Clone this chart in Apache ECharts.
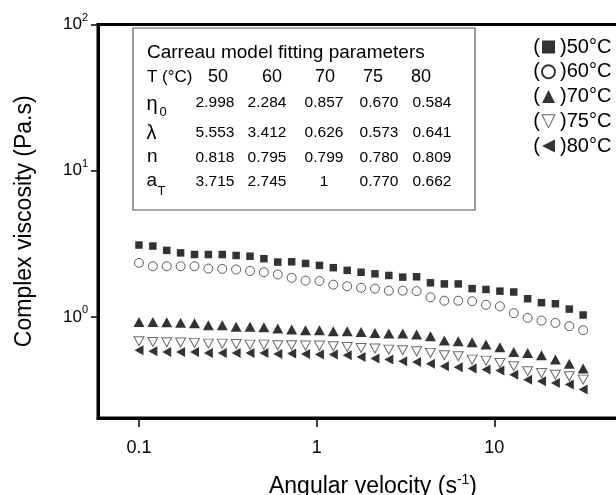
<!DOCTYPE html>
<html>
<head>
<meta charset="utf-8">
<script src="https://cdn.jsdelivr.net/npm/echarts@6/dist/echarts.min.js"></script>
<style>
html,body{margin:0;padding:0;background:#fff;}
#chart{width:616px;height:495px;}
</style>
</head>
<body>
<div id="chart"></div>
<script>
// ---- data ----
var omega = [0.1, 0.1197, 0.1433, 0.1715, 0.2054, 0.2458, 0.2943, 0.3523, 0.4217, 0.5048, 0.6043, 0.7234, 0.866, 1.037, 1.241, 1.486, 1.778, 2.129, 2.548, 3.051, 3.652, 4.371, 5.233, 6.264, 7.499, 8.977, 10.75, 12.86, 15.4, 18.43, 22.07, 26.42, 31.62];
var eta50 = [3.10, 3.05, 2.85, 2.74, 2.67, 2.67, 2.67, 2.63, 2.60, 2.50, 2.37, 2.38, 2.32, 2.25, 2.17, 2.08, 2.02, 1.97, 1.92, 1.87, 1.88, 1.71, 1.68, 1.68, 1.56, 1.54, 1.50, 1.48, 1.33, 1.25, 1.23, 1.13, 1.03];
var eta60 = [2.34, 2.22, 2.22, 2.22, 2.22, 2.14, 2.13, 2.11, 2.06, 2.02, 1.95, 1.85, 1.77, 1.76, 1.66, 1.62, 1.58, 1.56, 1.51, 1.51, 1.50, 1.36, 1.29, 1.29, 1.28, 1.21, 1.18, 1.06, 0.984, 0.943, 0.910, 0.864, 0.811];
var eta70 = [0.924, 0.924, 0.920, 0.910, 0.906, 0.877, 0.877, 0.855, 0.855, 0.850, 0.832, 0.819, 0.811, 0.811, 0.798, 0.798, 0.789, 0.777, 0.769, 0.769, 0.757, 0.738, 0.688, 0.682, 0.671, 0.646, 0.620, 0.575, 0.567, 0.547, 0.510, 0.477, 0.443];
var eta75 = [0.682, 0.674, 0.671, 0.667, 0.664, 0.656, 0.656, 0.653, 0.646, 0.646, 0.640, 0.640, 0.636, 0.636, 0.630, 0.623, 0.613, 0.607, 0.597, 0.591, 0.582, 0.567, 0.547, 0.538, 0.510, 0.502, 0.484, 0.460, 0.425, 0.413, 0.402, 0.392, 0.372];
var eta80 = [0.591, 0.582, 0.575, 0.575, 0.575, 0.567, 0.567, 0.567, 0.567, 0.567, 0.558, 0.561, 0.558, 0.552, 0.552, 0.547, 0.532, 0.518, 0.510, 0.497, 0.492, 0.477, 0.460, 0.452, 0.443, 0.436, 0.429, 0.402, 0.372, 0.363, 0.353, 0.344, 0.318];
var seriesNames = ['50°C', '60°C', '70°C', '75°C', '80°C'];
var xTicks = [0.1, 1, 10];
var yTicks = [1, 10, 100];

// Carreau table
var tableTitle = 'Carreau model fitting parameters';
var tableTemps = ['50', '60', '70', '75', '80'];
var tabEta0 = ['2.998', '2.284', '0.857', '0.670', '0.584'];
var tabLambda = ['5.553', '3.412', '0.626', '0.573', '0.641'];
var tabN = ['0.818', '0.795', '0.799', '0.780', '0.809'];
var tabAT = ['3.715', '2.745', '1', '0.770', '0.662'];

// ---- chart ----
var FONT = 'Liberation Sans, Arial, Helvetica, sans-serif';
function pairs(ys) { return ys.map(function (y, i) { return [omega[i], y]; }); }

var downTri = 'path://M0,0L10,0L5,10Z';
var leftTri = 'path://M10,0L10,10L0,5Z';

var graphics = [];
graphics.push({ type: 'rect', shape: { x: 133, y: 28, width: 342, height: 182 }, style: { fill: 'none', stroke: '#555', lineWidth: 1.2 } });
function txt(s, x, y, size, align) {
  graphics.push({ type: 'text', x: x, y: y, style: { text: s, fontSize: size, fontFamily: FONT, fill: '#000', textAlign: align || 'left', align: align || 'left', textVerticalAlign: 'middle', verticalAlign: 'middle' } });
}
txt(tableTitle, 147, 53, 19);
txt('T (°C)', 147, 77, 17);
var headX = [218, 272, 325, 373, 421];
tableTemps.forEach(function (t, i) { txt(t, headX[i], 77, 18, 'center'); });
var colX = [215, 267, 324, 379, 432];
var rows = [[tabEta0, 103], [tabLambda, 132.5], [tabN, 157.5], [tabAT, 182]];
rows.forEach(function (r) { r[0].forEach(function (v, i) { txt(v, colX[i], r[1], 15.5, 'center'); }); });
txt('η', 146.5, 104, 20);
txt('0', 159.5, 112, 13);
txt('λ', 146.5, 133, 20);
txt('n', 147, 156.5, 19);
txt('a', 146.5, 180.5, 19);
txt('T', 157.5, 191, 13);
// opening parentheses of the legend entries
var legTop = 37;
for (var k = 0; k < 5; k++) {
  txt('(', 540, 47 + k * 24.75, 20, 'right');
}

var option = {
  animation: false,
  backgroundColor: '#fff',
  textStyle: { fontFamily: FONT },
  grid: { left: 98, top: 24.5, right: -10, bottom: 77, show: true, borderColor: '#000', borderWidth: 3, backgroundColor: 'transparent', containLabel: false, outerBoundsMode: 'none' },
  legend: {
    orient: 'vertical', left: 541, top: legTop, padding: 0, itemWidth: 13, itemHeight: 13, itemGap: 4.75,
    textStyle: { fontSize: 20, lineHeight: 20, color: '#000', fontFamily: FONT },
    formatter: function (n) { return ')' + n; },
    data: [
      { name: '50°C' },
      { name: '60°C', itemStyle: { borderWidth: 2, borderColor: '#000', color: '#fff' } },
      { name: '70°C' },
      { name: '75°C', itemStyle: { borderWidth: 1, borderColor: '#333', color: '#fff' } },
      { name: '80°C' }
    ]
  },
  xAxis: {
    type: 'log', logBase: 10, min: 0.0588, max: 55.1,
    axisLine: { show: true, lineStyle: { color: '#000', width: 3 } },
    axisTick: { show: true, inside: false, length: 9, lineStyle: { color: '#000', width: 1.5 }, customValues: xTicks },
    axisLabel: { show: true, margin: 21, fontSize: 18, color: '#000', fontFamily: FONT, customValues: xTicks,
      formatter: function (v) { return v >= 1 ? String(Math.round(v)) : String(+v.toPrecision(2)); } },
    splitLine: { show: false }, minorTick: { show: false },
    name: '{a|Angular velocity (s}{b|-1}{a|)}', nameLocation: 'middle', nameGap: 55,
    nameTextStyle: { padding: [0, 0, 0, 22], rich: {
      a: { fontSize: 23, lineHeight: 28, fontFamily: FONT, color: '#000' },
      b: { fontSize: 14, lineHeight: 14, verticalAlign: 'top', fontFamily: FONT, color: '#000' } } }
  },
  yAxis: {
    type: 'log', logBase: 10, min: 0.2033, max: 100,
    axisLine: { show: true, lineStyle: { color: '#000', width: 3 } },
    axisTick: { show: true, inside: false, length: 7, lineStyle: { color: '#000', width: 1.5 }, customValues: yTicks },
    axisLabel: { show: true, margin: 10, customValues: yTicks,
      formatter: function (v) { return '{b|10}{s|' + Math.round(Math.log10(v)) + '}'; },
      rich: {
        b: { fontSize: 17, lineHeight: 24, fontFamily: FONT, color: '#000' },
        s: { fontSize: 11, lineHeight: 11, verticalAlign: 'top', fontFamily: FONT, color: '#000' } } },
    splitLine: { show: false }, minorTick: { show: false },
    name: 'Complex viscosity (Pa.s)', nameLocation: 'middle', nameGap: 62, nameRotate: 90,
    nameTextStyle: { fontSize: 23, color: '#000', fontFamily: FONT }
  },
  graphic: graphics,
  series: [
    { name: seriesNames[0], type: 'scatter', data: pairs(eta50), symbol: 'rect', symbolSize: 7.5, itemStyle: { color: '#000' }, z: 2 },
    { name: seriesNames[1], type: 'scatter', data: pairs(eta60), symbol: 'circle', symbolSize: 9, itemStyle: { color: '#fff', borderColor: '#333', borderWidth: 1 }, z: 2 },
    { name: seriesNames[2], type: 'scatter', data: pairs(eta70), symbol: 'triangle', symbolSize: [11, 10], itemStyle: { color: '#000' }, z: 2 },
    { name: seriesNames[3], type: 'scatter', data: pairs(eta75), symbol: downTri, symbolSize: [10, 9], symbolKeepAspect: false, itemStyle: { color: '#fff', borderColor: '#444', borderWidth: 1 }, z: 4 },
    { name: seriesNames[4], type: 'scatter', data: pairs(eta80), symbol: leftTri, symbolSize: [9, 10], symbolKeepAspect: false, itemStyle: { color: '#000' }, z: 3 }
  ]
};
var chart = echarts.init(document.getElementById('chart'), null, { renderer: 'canvas' });
chart.setOption(option);
</script>
</body>
</html>
